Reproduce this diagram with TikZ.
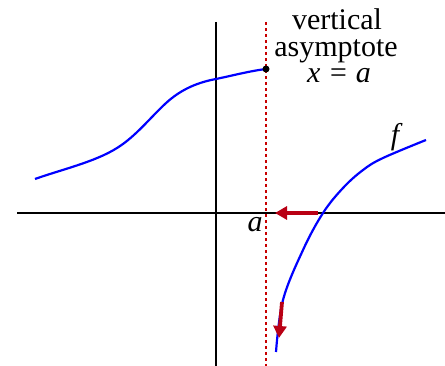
\documentclass[tikz,border=0pt]{standalone}
\usepackage{fontspec}
\setmainfont{Liberation Serif}
\newfontfamily\timesfont{Liberation Serif}
\usetikzlibrary{arrows.meta}
\definecolor{darkred}{RGB}{185,0,20}
\definecolor{asyred}{RGB}{200,0,0}
\tikzset{
  axis/.style={line width=2.2pt,black},
  curve/.style={line width=2.2pt,blue},
  asy/.style={line width=1.8pt,asyred,dash pattern=on 3.5pt off 2.5pt},
  redarrow/.style={line width=3.8pt,darkred,-{Triangle[length=12pt,width=13pt]}},
  lbl/.style={font=\timesfont\fontsize{30}{26}\selectfont,inner sep=0pt}
}
\begin{document}
\begin{tikzpicture}[x=1pt,y=-1pt]
\useasboundingbox (0,0) rectangle (445,366);
% axes
\coordinate (xl) at (17,213);
\coordinate (xr) at (445,213);
\coordinate (yt) at (216,22);
\coordinate (yb) at (216,366);
\draw[axis] (xl) -- (xr);
\draw[axis] (yt) -- (yb);
% asymptote
\coordinate (at) at (266,22);
\coordinate (ab) at (266,366);
\draw[asy] (at) -- (ab);
% left branch
\draw[curve] (35,179) .. controls (60,170) and (95,162) .. (117,148)
  .. controls (135,137) and (150,118) .. (165,104)
  .. controls (182,88) and (200,82) .. (216,79)
  .. controls (235,75) and (250,71) .. (266,69);
\node[circle,fill=black,inner sep=0pt,minimum size=7pt] (dot) at (266,69) {};
% right branch
\draw[curve] plot[smooth,tension=0.6] coordinates {(276,352) (283,300) (303,250) (323,213) (343,188) (363,170) (383,158) (426,140)};
% arrows
\coordinate (h1) at (318,213);
\coordinate (h2) at (275,213);
\draw[redarrow] (h1) -- (h2);
\coordinate (v1) at (282,302);
\coordinate (v2) at (279,338);
\draw[redarrow] (v1) -- (v2);
% labels
\node[lbl,anchor=base] (t1) at (337,30) {vertical};
\node[lbl,anchor=base] (t2) at (336,57) {asymptote};
\node[lbl,anchor=base] (t3) at (339,83) {\itshape x\/ = a};
\node[lbl,anchor=base] (la) at (255,232) {\itshape a};
\node[lbl,anchor=base] (lf) at (395,145) {\itshape f};
\end{tikzpicture}
\end{document}
